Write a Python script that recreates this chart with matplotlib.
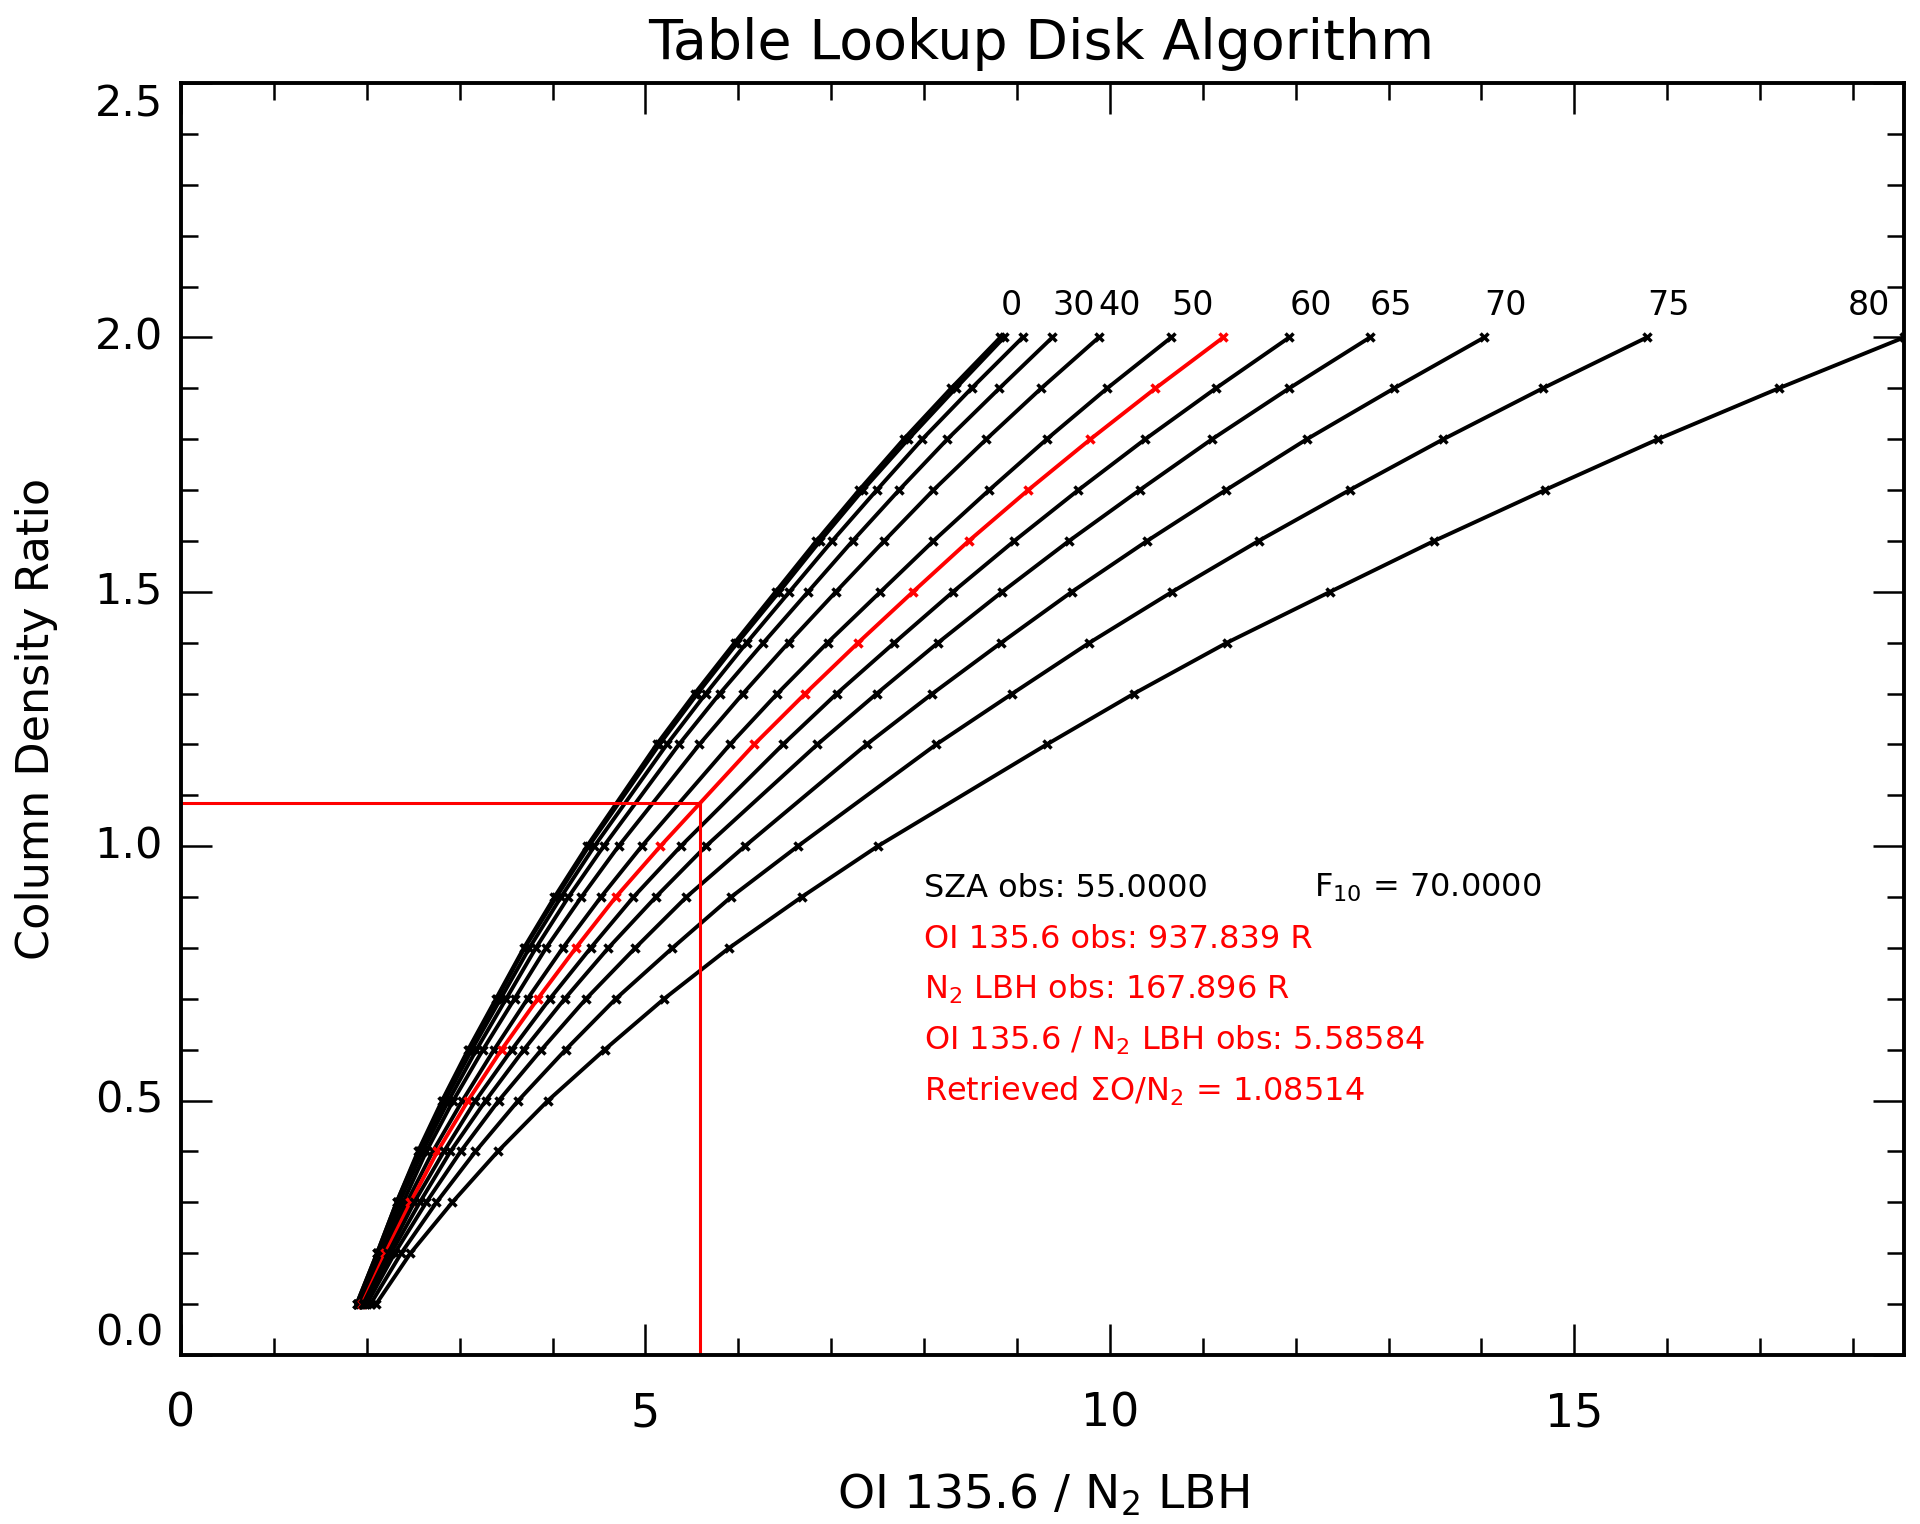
import matplotlib
matplotlib.use('Agg')
import matplotlib.pyplot as plt

plt.rcParams['font.family'] = ['DejaVu Sans']
plt.rcParams['mathtext.default'] = 'regular'

# column density ratio grid (no 1.1 row in the table)
column_ratio = [0.1, 0.2, 0.3, 0.4, 0.5, 0.6, 0.7, 0.8, 0.9, 1.0,
                1.2, 1.3, 1.4, 1.5, 1.6, 1.7, 1.8, 1.9, 2.0]

# OI 135.6 / N2 LBH ratio for each solar zenith angle
sza_0 = [1.89, 2.11, 2.32, 2.55, 2.81, 3.09, 3.39, 3.69, 4.02, 4.37, 5.12, 5.53, 5.96, 6.40, 6.84, 7.30, 7.78, 8.29, 8.82]
sza_10 = [1.89, 2.11, 2.32, 2.56, 2.82, 3.10, 3.40, 3.70, 4.04, 4.39, 5.15, 5.56, 5.99, 6.44, 6.88, 7.34, 7.83, 8.34, 8.86]
sza_20 = [1.90, 2.12, 2.34, 2.57, 2.84, 3.13, 3.44, 3.75, 4.09, 4.45, 5.23, 5.65, 6.09, 6.55, 7.01, 7.49, 7.98, 8.51, 9.06]
sza_30 = [1.90, 2.13, 2.35, 2.60, 2.88, 3.18, 3.50, 3.82, 4.17, 4.55, 5.36, 5.80, 6.27, 6.75, 7.23, 7.73, 8.25, 8.81, 9.38]
sza_40 = [1.91, 2.15, 2.39, 2.64, 2.93, 3.25, 3.59, 3.93, 4.31, 4.71, 5.58, 6.05, 6.54, 7.05, 7.57, 8.10, 8.67, 9.26, 9.88]
sza_50 = [1.93, 2.18, 2.43, 2.71, 3.03, 3.37, 3.73, 4.11, 4.52, 4.96, 5.91, 6.42, 6.96, 7.53, 8.10, 8.70, 9.32, 9.97, 10.66]
sza_55 = [1.95, 2.20, 2.47, 2.76, 3.09, 3.45, 3.84, 4.25, 4.68, 5.16, 6.17, 6.72, 7.29, 7.88, 8.48, 9.12, 9.79, 10.49, 11.22]
sza_60 = [1.96, 2.23, 2.51, 2.83, 3.17, 3.56, 3.97, 4.41, 4.87, 5.38, 6.48, 7.06, 7.68, 8.31, 8.97, 9.66, 10.38, 11.14, 11.93]
sza_65 = [1.98, 2.26, 2.57, 2.90, 3.28, 3.69, 4.13, 4.60, 5.11, 5.65, 6.85, 7.49, 8.15, 8.84, 9.56, 10.32, 11.10, 11.93, 12.80]
sza_70 = [2.00, 2.30, 2.64, 3.01, 3.42, 3.88, 4.36, 4.89, 5.44, 6.07, 7.38, 8.09, 8.83, 9.59, 10.40, 11.25, 12.12, 13.06, 14.03]
sza_75 = [2.04, 2.37, 2.75, 3.17, 3.63, 4.14, 4.68, 5.29, 5.92, 6.64, 8.13, 8.95, 9.78, 10.67, 11.60, 12.58, 13.59, 14.66, 15.78]
sza_80 = [2.10, 2.47, 2.92, 3.41, 3.95, 4.56, 5.20, 5.90, 6.68, 7.50, 9.32, 10.26, 11.26, 12.37, 13.49, 14.68, 15.90, 17.20, 18.55]

sza_list = [0, 10, 20, 30, 40, 50, 55, 60, 65, 70, 75, 80]
curves = [sza_0, sza_10, sza_20, sza_30, sza_40, sza_50, sza_55,
          sza_60, sza_65, sza_70, sza_75, sza_80]
labelled_sza = [0, 30, 40, 50, 60, 65, 70, 75, 80]

# observation
sza_obs = 55
ratio_obs = 5.58584
retrieved = 1.08514

x_ticks = [0, 5, 10, 15]
y_ticks = [0.0, 0.5, 1.0, 1.5, 2.0, 2.5]
y_tick_labels = ['0.0', '0.5', '1.0', '1.5', '2.0', '2.5']

fig = plt.figure(figsize=(19.2, 15.24), dpi=100)
ax = fig.add_axes([0.0943, 0.1109, 0.8974, 0.8346])

for sza, xs in zip(sza_list, curves):
    color = 'red' if sza == sza_obs else 'black'
    ax.plot(xs, column_ratio, color=color, lw=2.8, marker='x', ms=6, mew=2.5)
    if sza in labelled_sza:
        if sza == 80:
            ax.text(xs[-1] - 0.15, 2.045, str(sza), ha='right', va='baseline', fontsize=24)
        else:
            ax.text(xs[-1], 2.045, str(sza), ha='left', va='baseline', fontsize=24)

# retrieval cross-hair
ax.plot([0, ratio_obs], [retrieved, retrieved], color='red', lw=2.2)
ax.plot([ratio_obs, ratio_obs], [0, retrieved], color='red', lw=2.2)

# annotation block
ax.text(8.0, 0.90, 'SZA obs: 55.0000', fontsize=23, va='baseline')
ax.text(12.2, 0.90, 'F$_{10}$ = 70.0000', fontsize=23, va='baseline')
ax.text(8.0, 0.80, 'OI 135.6 obs: 937.839 R', fontsize=23, va='baseline', color='red')
ax.text(8.0, 0.70, 'N$_2$ LBH obs: 167.896 R', fontsize=23, va='baseline', color='red')
ax.text(8.0, 0.60, 'OI 135.6 / N$_2$ LBH obs: 5.58584', fontsize=23, va='baseline', color='red')
ax.text(8.0, 0.50, 'Retrieved \u03a3O/N$_2$ = 1.08514', fontsize=23, va='baseline', color='red')

ax.set_xlim(0, 18.55)
ax.set_ylim(0, 2.5)
ax.set_xticks(x_ticks)
ax.set_xticks(range(0, 19), minor=True)
ax.set_yticks(y_ticks)
ax.set_yticks([i / 10 for i in range(26)], minor=True)
ax.tick_params(which='both', direction='in', top=True, right=True, width=1.8)
ax.tick_params(which='major', length=22)
ax.tick_params(which='minor', length=12)
ax.tick_params(axis='x', labelsize=33, pad=26)
ax.tick_params(axis='y', labelleft=False)
for s in ax.spines.values():
    s.set_linewidth(2.8)

# y tick labels drawn by hand (end labels kept inside the axis range)
for val, lab in zip(y_ticks, y_tick_labels):
    va = 'center'
    if val == y_ticks[0]:
        va = 'bottom'
    elif val == y_ticks[-1]:
        va = 'top'
    ax.annotate(lab, xy=(0, val), xycoords=ax.get_yaxis_transform(),
                xytext=(-13, 0), textcoords='offset points',
                ha='right', va=va, fontsize=31)

ax.set_xlabel('OI 135.6 / N$_2$ LBH', fontsize=34)
ax.xaxis.set_label_coords(0.5, -0.092)
ax.set_ylabel('Column Density Ratio', fontsize=32)
ax.yaxis.set_label_coords(-0.0715, 0.5)

fig.text(0.5425, 1 - 59 / 1524, 'Table Lookup Disk Algorithm', ha='center',
         va='baseline', fontsize=40)

fig.savefig('out.png', dpi=100)
